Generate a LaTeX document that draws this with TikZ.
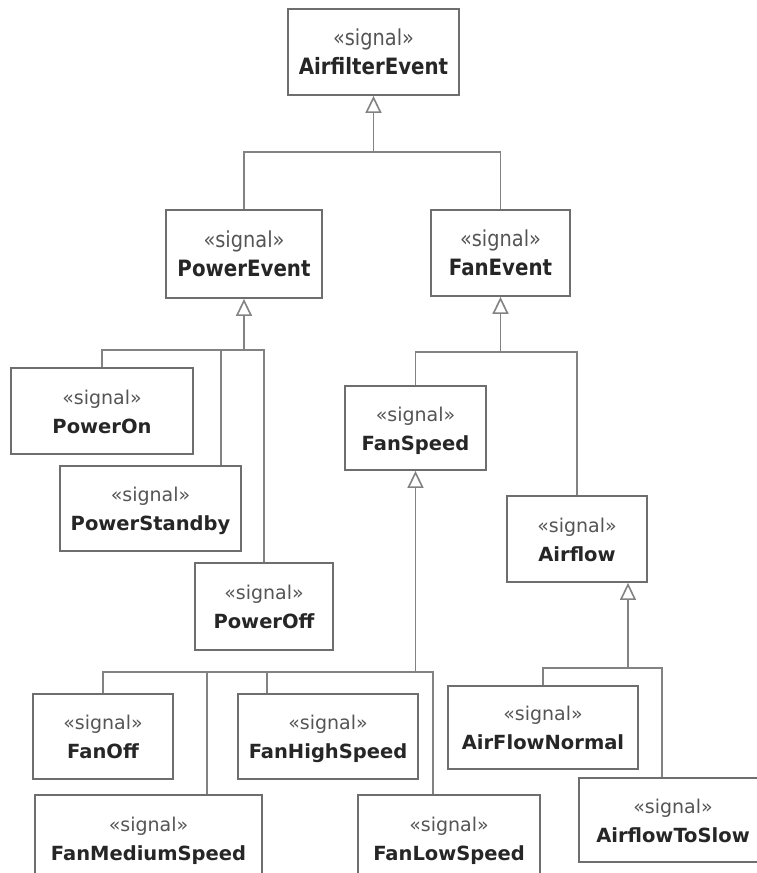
\documentclass[tikz,border=0pt]{standalone}
\usepackage{fontspec}
\newfontfamily\dvs{DejaVu Sans}
\newfontfamily\dvsc[FakeStretch=0.88]{DejaVu Sans}
\usetikzlibrary{arrows.meta,calc}
\definecolor{boxgray}{HTML}{6E6E6E}
\definecolor{linegray}{HTML}{828282}
\definecolor{txtdark}{HTML}{262626}
\definecolor{txtsig}{HTML}{555555}
\tikzset{
  box/.style={draw=boxgray, line width=1.8pt, fill=white, inner sep=0pt},
  lowsig/.style={anchor=base, inner sep=0pt, text=txtsig, font=\dvs\fontsize{19}{22}\selectfont},
  lowname/.style={anchor=base, inner sep=0pt, text=txtdark, font=\dvs\bfseries\fontsize{19.5}{22}\selectfont},
  topsig/.style={lowsig, font=\dvsc\fontsize{22}{24}\selectfont},
  topname/.style={lowname, font=\dvsc\bfseries\fontsize{22.5}{24}\selectfont},
  conn/.style={draw=linegray, line width=1.8pt},
  gen/.style={conn, -{Triangle[open, fill=white, length=17pt, width=16pt, line width=1.6pt]}}
}
\newcommand\sigbox[7]{% name, cx, cy, w, h, text, style prefix
  \node[box, minimum width=#4pt, minimum height=#5pt] (#1) at (#2,#3) {};
  \node[#7sig] (#1s) at ($(#1.center)+(0,-7)$) {«signal»};
  \node[#7name] (#1n) at ($(#1.center)+(0,22)$) {#6};
}
\begin{document}
\begin{tikzpicture}[x=1pt,y=-1pt]
\useasboundingbox (0,0) rectangle (757,873);
\clip (0,0) rectangle (757,873);
\fill[white] (0,0) rectangle (757,873);

\coordinate (jA) at (373.5,152);
\coordinate (jP) at (244,350);
\coordinate (jF) at (500.5,352);
\coordinate (jS) at (415.5,672);
\coordinate (jW) at (628,668);

\sigbox{A}{373.5}{52}{171}{86}{AirfilterEvent}{top}
\sigbox{PE}{244}{254}{156}{88}{PowerEvent}{top}
\sigbox{FE}{500.5}{253}{139}{86}{FanEvent}{top}
\sigbox{PON}{102}{411}{182}{86}{PowerOn}{low}
\sigbox{PSB}{150.5}{508.5}{181}{85}{PowerStandby}{low}
\sigbox{POFF}{264}{606.5}{138}{87}{PowerOff}{low}
\sigbox{FS}{415.5}{428}{141}{84}{FanSpeed}{low}
\sigbox{AF}{577}{539}{140}{86}{Airflow}{low}
\sigbox{FO}{103}{736.5}{140}{85}{FanOff}{low}
\sigbox{FMS}{148.5}{838}{227}{86}{FanMediumSpeed}{low}
\sigbox{FHS}{328}{736.5}{180}{85}{FanHighSpeed}{low}
\sigbox{FLS}{449}{838}{182}{86}{FanLowSpeed}{low}
\sigbox{AFN}{543}{727.5}{190}{83}{AirFlowNormal}{low}
\sigbox{ATS}{673}{820}{188}{84}{AirflowToSlow}{low}

% AirfilterEvent
\draw[conn] (PE.north) |- (jA) -| (FE.north);
\draw[gen] (jA) -- (A.south);
% PowerEvent
\draw[conn] (PON.north) |- (jP) -| (POFF.north);
\draw[conn] (PSB.north -| 221,0) -- (jP -| 221,0);
\draw[gen] (jP) -- (PE.south);
% FanEvent
\draw[conn] (FS.north) |- (jF) -| (AF.north);
\draw[gen] (jF) -- (FE.south);
% FanSpeed
\draw[conn] (FO.north) |- (jS) -| (FLS.north -| 433,0);
\draw[conn] (FMS.north -| 207,0) -- (jS -| 207,0);
\draw[conn] (FHS.north -| 267,0) -- (jS -| 267,0);
\draw[gen] (jS) -- (FS.south);
% Airflow
\draw[conn] (AFN.north) |- (jW) -| (ATS.north -| 662,0);
\draw[gen] (jW) -- (AF.south -| 628,0);
\end{tikzpicture}
\end{document}
